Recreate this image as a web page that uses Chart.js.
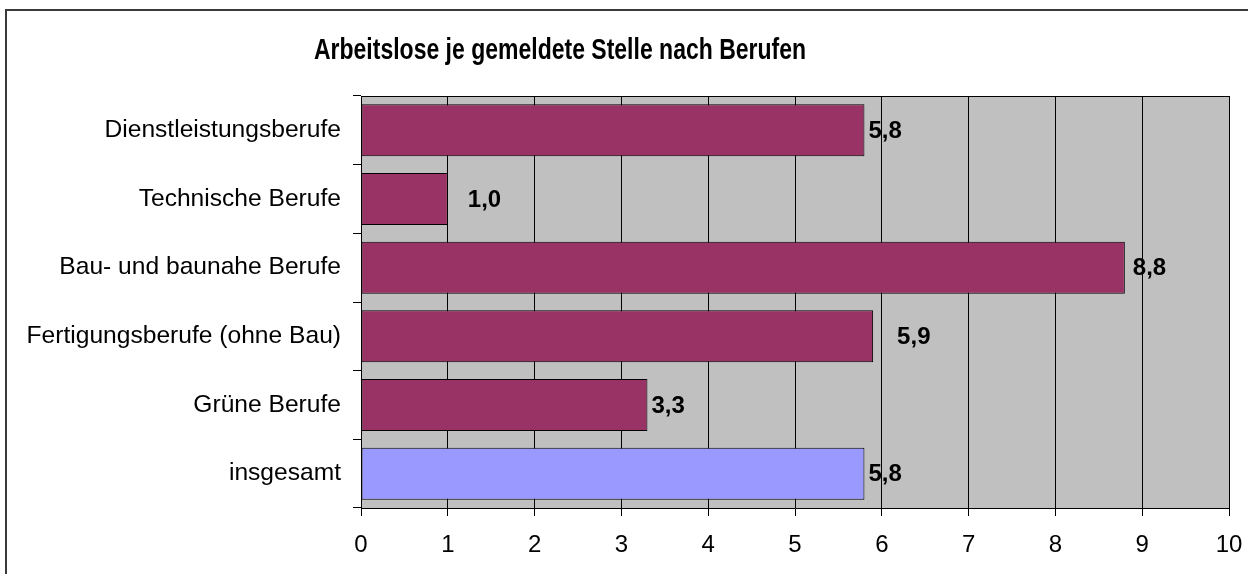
<!DOCTYPE html>
<html>
<head>
<meta charset="utf-8">
<script src="https://cdn.jsdelivr.net/npm/chart.js@4/dist/chart.umd.min.js"></script>
<style>
  body { margin: 0; background: #fff; overflow: hidden; }
  #frame { position: absolute; left: 5px; top: 9px; width: 1400px; height: 700px;
           border-left: 2px solid #3a3a3a; border-top: 2px solid #3a3a3a; pointer-events: none; }
</style>
</head>
<body>
<canvas id="chart" width="1248" height="574"></canvas>
<div id="frame"></div>
<script>
// data
const categories = ['Dienstleistungsberufe', 'Technische Berufe', 'Bau- und baunahe Berufe',
  'Fertigungsberufe (ohne Bau)', 'Grüne Berufe', 'insgesamt'];
const values = [5.8, 1.0, 8.8, 5.9, 3.3, 5.8];
const barColors = ['#993366', '#993366', '#993366', '#993366', '#993366', '#9999FF'];
const xTicks = [0, 1, 2, 3, 4, 5, 6, 7, 8, 9, 10];
// gap between bar end and its value label (px)
const labelGap = [4, 20, 8, 24, 4, 4];
const title = 'Arbeitslose je gemeldete Stelle nach Berufen';

const FONT = "'Liberation Sans', Arial, sans-serif";

const plotBg = {
  id: 'plotBg',
  beforeDraw(chart) {
    const {ctx, chartArea: a} = chart;
    ctx.save();
    ctx.fillStyle = '#C0C0C0';
    ctx.fillRect(a.left, a.top, a.right - a.left, a.bottom - a.top);
    ctx.restore();
  },
  afterDatasetsDraw(chart) {
    const {ctx, chartArea: a} = chart;
    ctx.save();
    ctx.strokeStyle = '#000';
    ctx.lineWidth = 1;
    ctx.beginPath();
    ctx.moveTo(a.left, a.top + 0.5);
    ctx.lineTo(a.right, a.top + 0.5);
    ctx.stroke();
    // title (the original is a tall, condensed bold face)
    ctx.save();
    ctx.fillStyle = '#000';
    ctx.font = 'bold 23px ' + FONT;
    ctx.textAlign = 'center';
    ctx.textBaseline = 'alphabetic';
    ctx.scale(1, 1.26);
    ctx.fillText(title, 560, 59 / 1.26);
    ctx.restore();
    // value labels
    ctx.fillStyle = '#000';
    ctx.font = 'bold 24px ' + FONT;
    ctx.textAlign = 'left';
    ctx.textBaseline = 'middle';
    chart.getDatasetMeta(0).data.forEach((bar, i) => {
      ctx.fillText(values[i].toFixed(1).replace('.', ','), bar.x + labelGap[i], bar.y + 1);
    });
    ctx.restore();
  }
};

new Chart(document.getElementById('chart'), {
  type: 'bar',
  data: {
    labels: categories,
    datasets: [{
      data: values,
      backgroundColor: barColors,
      borderColor: '#000',
      borderWidth: 1,
      borderSkipped: false,
      barPercentage: 0.757,
      categoryPercentage: 1
    }]
  },
  options: {
    indexAxis: 'y',
    responsive: false,
    animation: false,
    layout: { padding: { top: 96, right: 19, left: 0, bottom: 0 } },
    plugins: { legend: { display: false }, tooltip: { enabled: false } },
    scales: {
      x: {
        min: 0, max: 10,
        afterBuildTicks(axis) { axis.ticks = xTicks.map(v => ({value: v})); },
        afterFit(axis) {
          axis.height = 66;
          // keep the plot edge where the original has it
          axis.paddingLeft = 0;
          axis.paddingRight = 0;
        },
        grid: { color: '#000', lineWidth: 1, tickLength: 8 },
        border: { color: '#000', width: 1 },
        ticks: { color: '#000', padding: 15, font: { family: FONT, size: 24 } }
      },
      y: {
        afterFit(axis) { axis.width = 361; },
        grid: { offset: true, drawOnChartArea: false, color: '#000', tickLength: 8 },
        border: { color: '#000', width: 1 },
        ticks: { color: '#000', padding: 12, font: { family: FONT, size: 24.6 } }
      }
    }
  },
  plugins: [plotBg]
});
</script>
</body>
</html>
